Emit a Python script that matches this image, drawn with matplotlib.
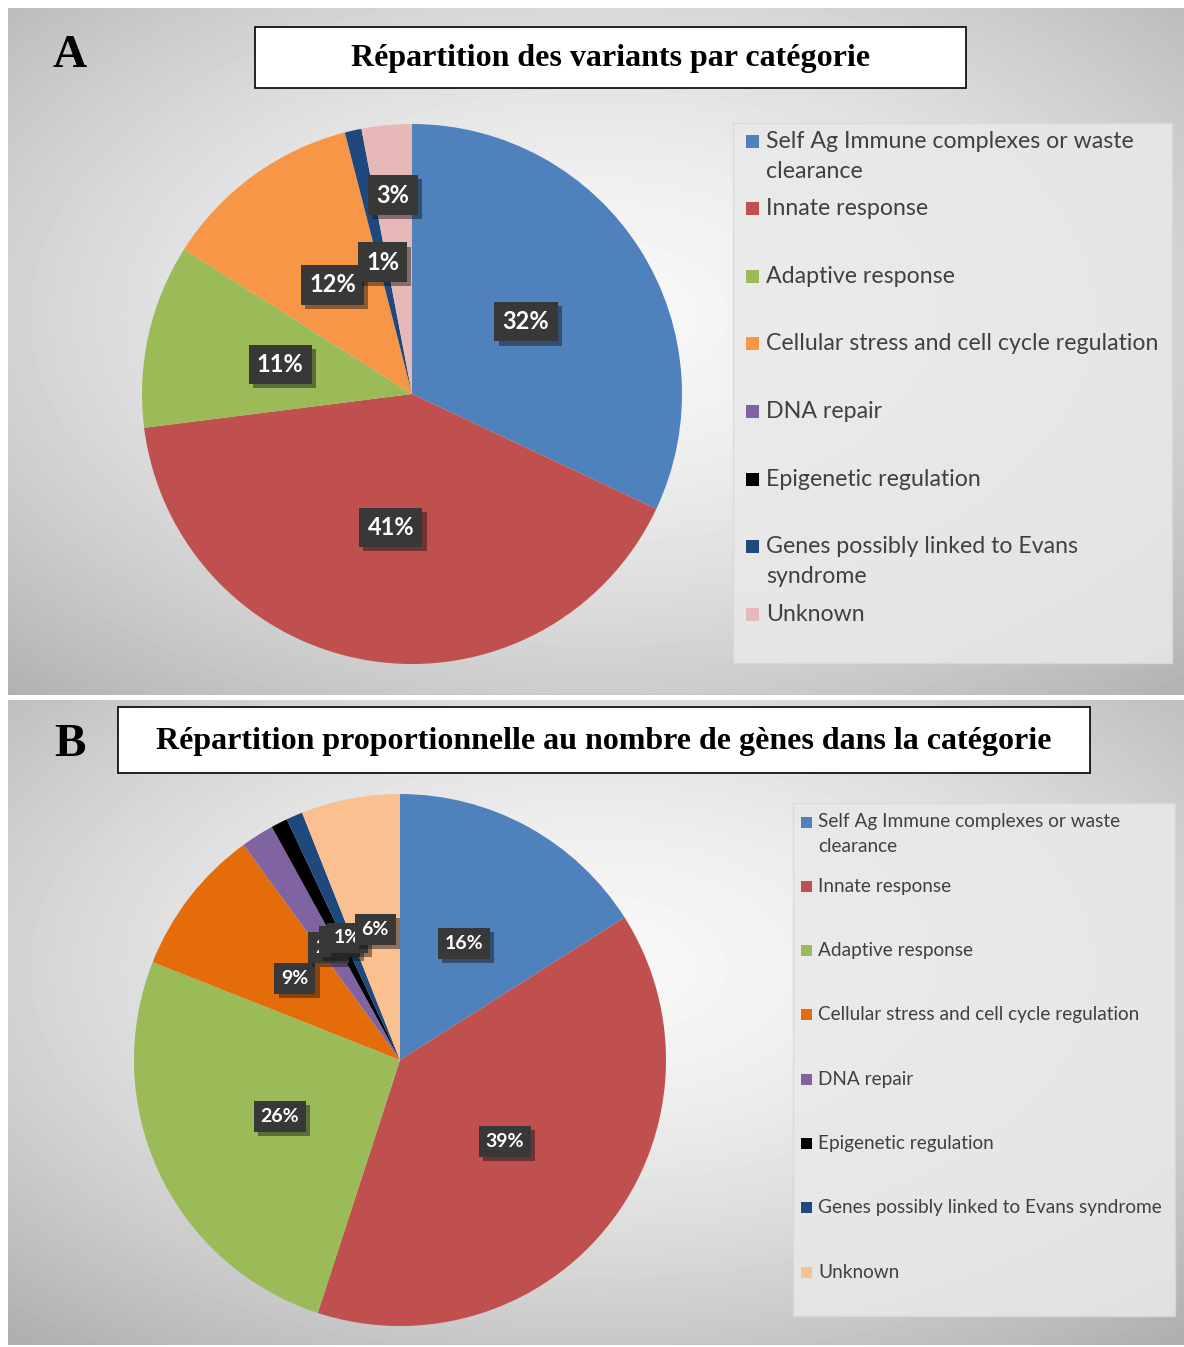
import numpy as np
import matplotlib
matplotlib.use('Agg')
import matplotlib.pyplot as plt
import matplotlib.patheffects as pe
from matplotlib.patches import Rectangle

W, H = 1184, 1347

categories = ['Self Ag Immune complexes or waste clearance', 'Innate response',
              'Adaptive response', 'Cellular stress and cell cycle regulation',
              'DNA repair', 'Epigenetic regulation',
              'Genes possibly linked to Evans syndrome', 'Unknown']
share_variants = [32, 41, 11, 12, 0, 0, 1, 3]
share_genes = [16, 39, 26, 9, 2, 1, 1, 6]

# legend wording, wrapped like the original
legend_a = [['Self Ag Immune complexes or waste', 'clearance'], ['Innate response'],
            ['Adaptive response'], ['Cellular stress and cell cycle regulation'],
            ['DNA repair'], ['Epigenetic regulation'],
            ['Genes possibly linked to Evans', 'syndrome'], ['Unknown']]
legend_b = [['Self Ag Immune complexes or waste', 'clearance'], ['Innate response'],
            ['Adaptive response'], ['Cellular stress and cell cycle regulation'],
            ['DNA repair'], ['Epigenetic regulation'],
            ['Genes possibly linked to Evans syndrome'], ['Unknown']]

colors_a = ['#4F81BD', '#C0504D', '#9BBB59', '#F79646', '#8064A2', '#000000', '#1F497D', '#E6B9B8']
colors_b = ['#4F81BD', '#C0504D', '#9BBB59', '#E46C0A', '#8064A2', '#000000', '#1F497D', '#FAC090']


def px_rect(x0, y0, x1, y1):
    return [x0 / W, 1 - y1 / H, (x1 - x0) / W, (y1 - y0) / H]


def gradient(w, h, cx, cy):
    yy, xx = np.mgrid[0:h, 0:w]
    d = np.sqrt(((xx - cx) / w) ** 2 + ((yy - cy) / h) ** 2)
    v = 0.97 - 0.28 * np.clip(d / 0.75, 0, 1) ** 1.6
    return v


fig = plt.figure(figsize=(W / 100, H / 100), dpi=100)
fig.patch.set_facecolor('white')

bg = fig.add_axes([0, 0, 1, 1])
bg.set_xlim(0, W)
bg.set_ylim(H, 0)
bg.axis('off')

# panel backgrounds
bg.imshow(gradient(300, 180, 150, 80), cmap='gray', vmin=0, vmax=1,
          extent=(8, 1184, 695, 8), aspect='auto', interpolation='bilinear')
bg.imshow(gradient(300, 170, 150, 70), cmap='gray', vmin=0, vmax=1,
          extent=(8, 1184, 1345, 700), aspect='auto', interpolation='bilinear')

# titles and panel letters
for (x0, y0, x1, y1), title in [((255, 27, 966, 88), 'Répartition des variants par catégorie'),
                                ((118, 707, 1090, 773), 'Répartition proportionnelle au nombre de gènes dans la catégorie')]:
    bg.add_patch(Rectangle((x0, y0), x1 - x0, y1 - y0, fc='white', ec='black', lw=1.2))
    bg.text((x0 + x1) / 2, (y0 + y1) / 2 + 1, title, ha='center', va='center',
            family='Liberation Serif', weight='bold', fontsize=23)
bg.text(70, 56, 'A', ha='center', va='center', family='Liberation Serif', weight='bold', fontsize=34)
bg.text(70, 745, 'B', ha='center', va='center', family='Liberation Serif', weight='bold', fontsize=34)


def draw_legend(box, entries, colors, y0, step, x_sq, sq, x_txt, fs, line_h):
    bx0, by0, bx1, by1 = box
    bg.add_patch(Rectangle((bx0, by0), bx1 - bx0, by1 - by0, fc='#e9e9e9', ec='#d8d8d8', lw=1, alpha=0.85))
    for i, (lines, c) in enumerate(zip(entries, colors)):
        y = y0 + i * step
        bg.add_patch(Rectangle((x_sq, y - sq / 2), sq, sq, fc=c, ec='none'))
        for j, line in enumerate(lines):
            bg.text(x_txt, y + j * line_h, line, ha='left', va='center',
                    family='Lato', fontsize=fs, color='#404040')


draw_legend((733, 123, 1172, 663), legend_a, colors_a, 141, 67.6, 746, 13, 766, 16.7, 30)
draw_legend((793, 803, 1175, 1316), legend_b, colors_b, 822, 64.3, 801, 11, 818, 13.7, 25)


def draw_pie(rect, values, colors, dist, fs):
    ax = fig.add_axes(rect)
    ax.pie(values, colors=colors, startangle=90, counterclock=False,
           wedgeprops=dict(linewidth=0))
    ax.set_xlim(-1, 1)
    ax.set_ylim(-1, 1)
    ax.set_aspect('equal')
    ax.axis('off')
    total = float(sum(values))
    cum = 0.0
    for v, d in zip(values, dist):
        frac = v / total
        mid = np.deg2rad(90 - 360 * (cum + frac / 2))
        cum += frac
        if v == 0:
            continue
        t = ax.text(d * np.cos(mid), d * np.sin(mid), f'{v}%', ha='center', va='center',
                    color='white', weight='bold', fontsize=fs, family='Lato',
                    bbox=dict(boxstyle='square,pad=0.35', fc='#383838', ec='none'))
        t.get_bbox_patch().set_path_effects([pe.withSimplePatchShadow(offset=(3, -3), alpha=0.45)])
    return ax


draw_pie(px_rect(142, 124, 682, 664), share_variants, colors_a,
         [0.5, 0.5, 0.5, 0.5, 0.5, 0.5, 0.5, 0.74], 17)
draw_pie(px_rect(134, 794, 666, 1326), share_genes, colors_b,
         [0.5] * 8, 14)

fig.savefig('out.png', dpi=100)
